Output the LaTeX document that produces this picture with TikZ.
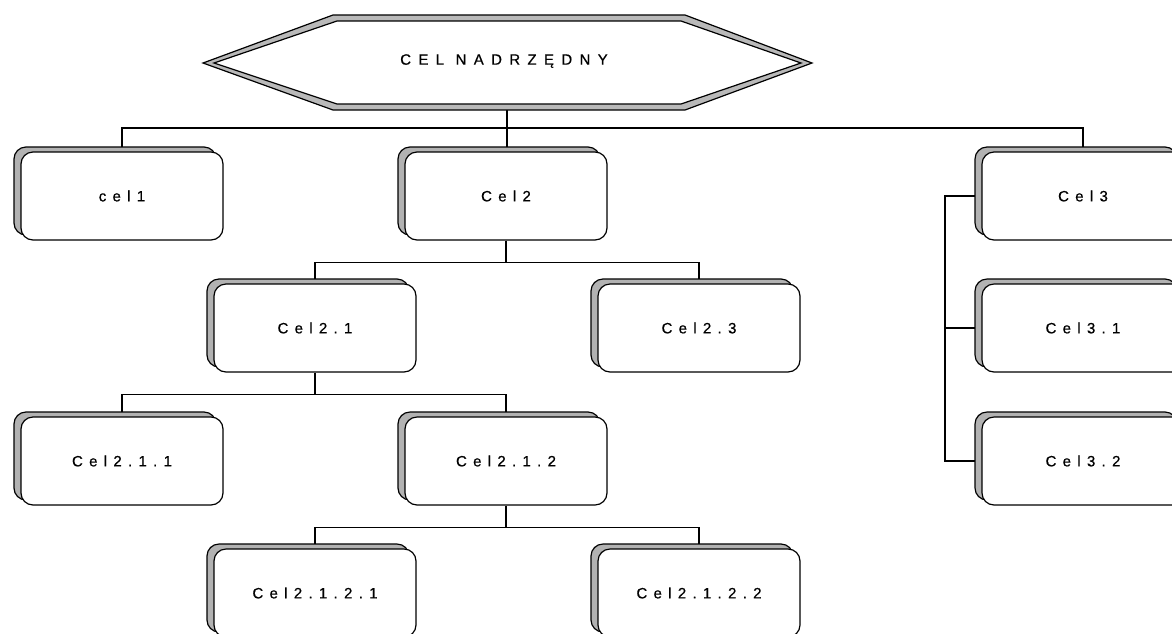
\documentclass[tikz,border=0pt]{standalone}
\usepackage{fontspec}
\newfontfamily\boxfont[LetterSpace=42,FakeBold=0.6]{Liberation Sans}
\newfontfamily\hexfont[LetterSpace=49,FakeBold=0.6]{Liberation Sans}
\usetikzlibrary{shadows}
\pgfdeclarelayer{background}
\pgfsetlayers{background,main}
\begin{document}
\begin{tikzpicture}[x=1pt,y=-1pt,line width=1.2pt,
  goal/.style={draw=black,fill=white,rounded corners=12pt,
    minimum width=202pt,minimum height=88pt,inner sep=0pt,
    font=\boxfont\fontsize{15}{17}\selectfont,
    copy shadow={shadow xshift=-7pt,shadow yshift=5pt,opacity=1,fill=gray!60,draw=black}},
  link/.style={draw=black,line width=1.2pt}]
\useasboundingbox (0,0) rectangle (1172,633);
\clip (0,0) rectangle (1172,633);
% top hexagon
\draw[fill=gray!55] (203,63) -- (333,15) -- (685,15) -- (812,63) -- (685,110) -- (333,110) -- cycle;
\draw[fill=white] (214,63) -- (337,21) -- (681,21) -- (801,63) -- (681,104) -- (337,104) -- cycle;
\node[font=\hexfont\fontsize{15}{17}\selectfont,inner sep=0pt] (top) at (504,61) {CEL NADRZĘDNY};
\coordinate (topb) at (507,110);
% goal boxes (centre of front box)
\node[goal] (c1) at (122,196) {cel1};
\node[goal] (c2) at (506,196) {Cel2};
\node[goal] (c3) at (1083,196) {Cel3};
\node[goal] (c21) at (315,328) {Cel2.1};
\node[goal] (c23) at (699,328) {Cel2.3};
\node[goal] (c31) at (1083,328) {Cel3.1};
\node[goal] (c211) at (122,461) {Cel2.1.1};
\node[goal] (c212) at (506,461) {Cel2.1.2};
\node[goal] (c32) at (1083,461) {Cel3.2};
\node[goal] (c2121) at (315,593) {Cel2.1.2.1};
\node[goal] (c2122) at (699,593) {Cel2.1.2.2};
\coordinate (b3) at (945,196);
\begin{pgfonlayer}{background}
\draw[link] (topb) -- ++(0,18) -| (c1.north);
\draw[link] (topb) -- ++(0,18) -| (c3.north);
\draw[link] (topb) -- (topb |- c2.north);
\draw[link] (c2.south) -- ++(0,22) -| (c21.north);
\draw[link] (c2.south) -- ++(0,22) -| (c23.north);
\draw[link] (c21.south) -- ++(0,22) -| (c211.north);
\draw[link] (c21.south) -- ++(0,22) -| (c212.north);
\draw[link] (c212.south) -- ++(0,22) -| (c2121.north);
\draw[link] (c212.south) -- ++(0,22) -| (c2122.north);
\draw[link] (c3.west) -- (b3) |- (c32.west);
\draw[link] (b3 |- c31.west) -- (c31.west);
\end{pgfonlayer}
\end{tikzpicture}
\end{document}
